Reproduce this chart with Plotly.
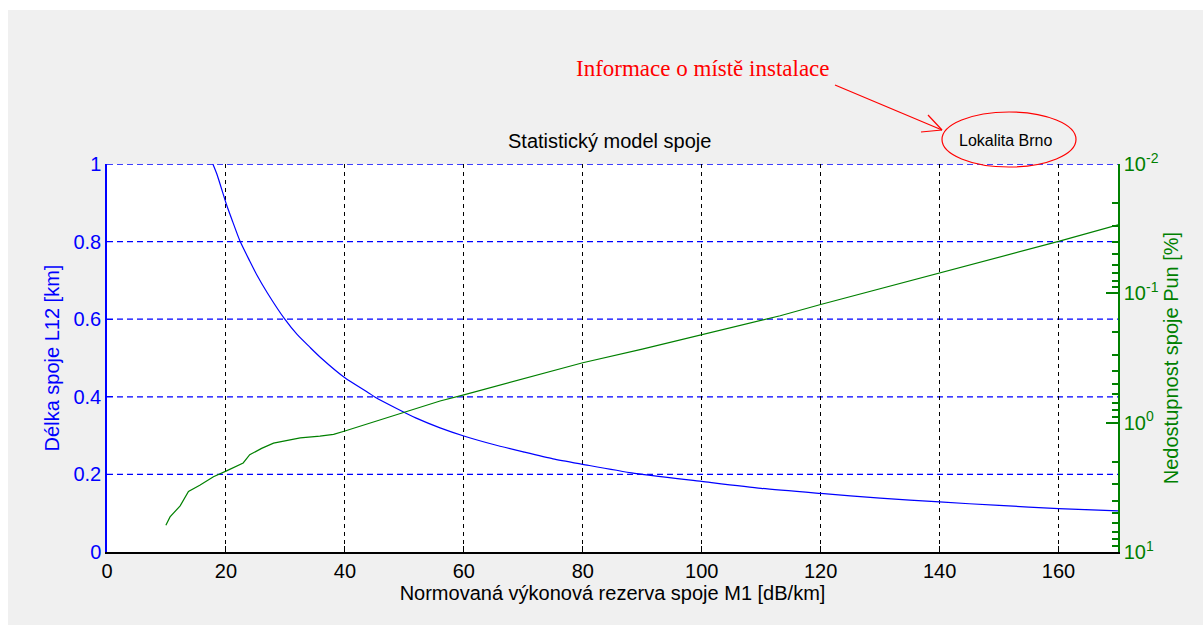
import plotly.graph_objects as go

# ---- data ----
m_len = [17.8, 18.5, 20.1, 21.0, 22.4, 24.0, 25.2, 27.0, 29.9, 32.0, 34.1, 36.0, 40.0, 44.0,
         45.1, 48.7, 52.0, 56.0, 60.0, 65.0, 70.0, 75.0, 80.0, 88.2, 100.0, 110.0, 120.0,
         130.0, 140.0, 150.0, 160.0, 170.0]
l12_km = [1.0, 0.973, 0.895, 0.857, 0.80, 0.75, 0.714, 0.667, 0.60, 0.56, 0.528, 0.50, 0.449, 0.41,
          0.399, 0.37, 0.345, 0.32, 0.299, 0.277, 0.258, 0.24, 0.226, 0.204, 0.182, 0.164, 0.151,
          0.139, 0.129, 0.12, 0.112, 0.106]

m_pun = [9.9, 10.6, 12.3, 13.7, 15.6, 17.9, 20.1, 22.0, 22.9, 24.0, 26.0, 28.0, 32.5, 35.8,
         38.1, 40.0, 44.8, 49.8, 56.0, 60.0, 70.0, 80.0, 90.0, 100.0, 113.2, 120.0, 130.0,
         140.0, 150.0, 160.0, 170.0]
pun_pct = [6.2, 5.35, 4.4, 3.4, 3.05, 2.62, 2.36, 2.15, 2.05, 1.77, 1.58, 1.44, 1.31, 1.27,
           1.23, 1.16, 0.99, 0.84, 0.68, 0.61, 0.46, 0.344, 0.27, 0.208, 0.149, 0.122, 0.092,
           0.069, 0.052, 0.0397, 0.0295]

x_ticks = [0, 20, 40, 60, 80, 100, 120, 140, 160]
y_ticks = [0, 0.2, 0.4, 0.6, 0.8, 1]
y_tick_text = ["0", "0.2", "0.4", "0.6", "0.8", "1"]
y2_ticks = [0.01, 0.1, 1, 10]
y2_tick_text = ["10<sup>-2</sup>", "10<sup>-1</sup>", "10<sup>0</sup>", "10<sup>1</sup>"]
y2_minor = [k * 10.0 ** e for e in (-2, -1, 0) for k in range(2, 10)]

title_text = "Statistický model spoje"
x_title = "Normovaná výkonová rezerva spoje M1 [dB/km]"
y_title = "Délka spoje L12 [km]"
y2_title = "Nedostupnost spoje Pun [%]"
note_text = "Informace o místě instalace"
place_text = "Lokalita Brno"

# ---- layout geometry ----
W, H = 1203, 625
L, R, T, B = 107, 1118, 164, 552
BLUE, GREEN, GREY = "#0000FF", "#008000", "#F0F0F0"
FONT = "Liberation Sans, Arial, sans-serif"
FS = 20


def fx(p):
    return (p - L) / (R - L)


def fy(p):
    return (B - p) / (B - T)


fig = go.Figure()
fig.add_trace(go.Scatter(x=m_len, y=l12_km, mode="lines", line_shape="spline",
                         line=dict(color=BLUE, width=1.2, smoothing=0.6), yaxis="y",
                         showlegend=False))
fig.add_trace(go.Scatter(x=m_pun, y=pun_pct, mode="lines",
                         line=dict(color=GREEN, width=1.2), yaxis="y2", showlegend=False))

fig.update_layout(
    width=W, height=H,
    margin=dict(l=L, r=W - R, t=T, b=H - B, pad=0),
    paper_bgcolor=GREY, plot_bgcolor="white",
    font=dict(family=FONT, size=FS, color="black"),
    xaxis=dict(range=[0, 170], tickvals=x_ticks, ticks="inside", ticklen=6, tickcolor="black",
               showline=True, linecolor="black", linewidth=1.5, mirror=False,
               showgrid=True, gridcolor="black", griddash="4px,4px", gridwidth=1,
               zeroline=False, tickfont=dict(size=FS, color="black"),
               title=dict(text=x_title, font=dict(size=FS, color="black"), standoff=5)),
    yaxis=dict(range=[0, 1], tickvals=y_ticks, ticktext=y_tick_text, ticks="inside", ticklen=6,
               tickcolor=BLUE, showline=True, linecolor=BLUE, linewidth=1.5,
               showgrid=False, zeroline=False, tickfont=dict(size=FS, color=BLUE),
               title=dict(text=y_title, font=dict(size=FS, color=BLUE), standoff=8)),
    yaxis2=dict(type="log", range=[1, -2], overlaying="y", side="right", anchor="x",
                tickvals=y2_ticks, ticktext=y2_tick_text, ticks="inside", ticklen=12,
                tickcolor=GREEN, tickwidth=1.5, showline=True, linecolor=GREEN, linewidth=1.5,
                showgrid=False, zeroline=False, tickfont=dict(size=FS, color=GREEN),
                minor=dict(tickvals=y2_minor, ticks="inside", ticklen=6, tickcolor=GREEN,
                           tickwidth=1.5, showgrid=False),
                title=dict(text=y2_title, font=dict(size=FS, color=GREEN), standoff=6)),
)

shapes = [
    # white page margin around the grey figure
    dict(type="rect", xref="paper", yref="paper", x0=fx(0), x1=fx(W), y0=fy(10), y1=fy(0),
         fillcolor="white", line=dict(width=0), layer="above"),
    dict(type="rect", xref="paper", yref="paper", x0=fx(0), x1=fx(8), y0=fy(H), y1=fy(0),
         fillcolor="white", line=dict(width=0), layer="above"),
    # ellipse around place name
    dict(type="circle", xref="paper", yref="paper", x0=fx(942), x1=fx(1076), y0=fy(167), y1=fy(112),
         line=dict(color="#FF0000", width=1.2)),
    # arrow
    dict(type="line", xref="paper", yref="paper", x0=fx(835), y0=fy(85), x1=fx(942), y1=fy(130),
         line=dict(color="#FF0000", width=1.2)),
    dict(type="line", xref="paper", yref="paper", x0=fx(928), y0=fy(115), x1=fx(942), y1=fy(130),
         line=dict(color="#FF0000", width=1.2)),
    dict(type="line", xref="paper", yref="paper", x0=fx(921), y0=fy(132), x1=fx(942), y1=fy(130),
         line=dict(color="#FF0000", width=1.2)),
]
# blue dashed horizontal gridlines of the left axis
for v in y_ticks[1:]:
    shapes.append(dict(type="line", xref="paper", yref="y", x0=0, x1=1, y0=v, y1=v,
                       line=dict(color=BLUE, width=1.3, dash="6px,4px"), layer="below"))
fig.update_layout(shapes=shapes)

annotations = [
    dict(text=title_text, x=fx(609), y=fy(141), xref="paper", yref="paper", showarrow=False,
         xanchor="center", yanchor="middle", font=dict(size=FS, color="black", family=FONT)),
    dict(text=note_text, x=fx(703), y=fy(68), xref="paper", yref="paper", showarrow=False,
         xanchor="center", yanchor="middle",
         font=dict(size=23, color="#FF0000", family="Liberation Serif, Times New Roman, serif")),
    dict(text=place_text, x=fx(1005), y=fy(140), xref="paper", yref="paper", showarrow=False,
         xanchor="center", yanchor="middle", font=dict(size=16, color="black", family=FONT)),
]
fig.update_layout(annotations=annotations)

fig.write_html("out.html")
